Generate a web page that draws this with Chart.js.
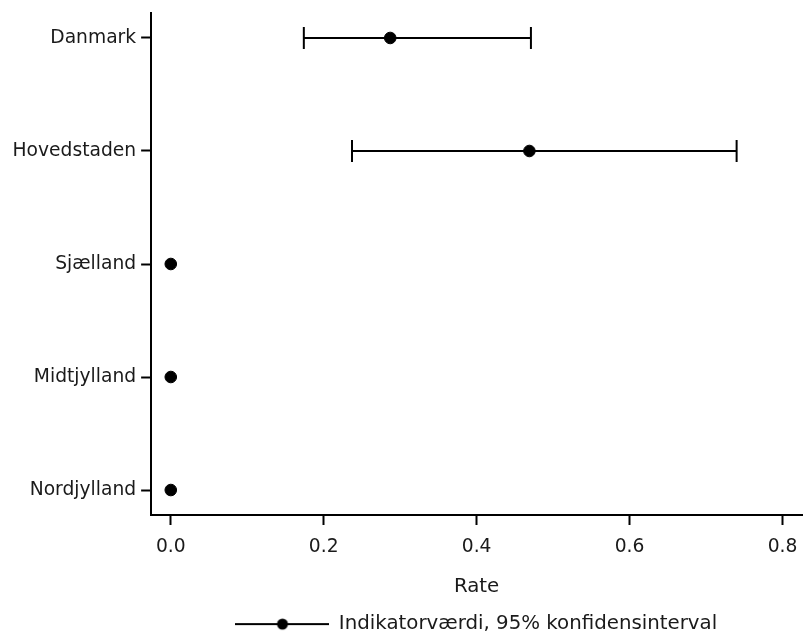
<!DOCTYPE html>
<html>
<head>
<meta charset="utf-8">
<script src="https://cdn.jsdelivr.net/npm/chart.js@4/dist/chart.umd.min.js"></script>
<style>
  body { margin: 0; background: #fff; }
  #wrap { width: 803px; height: 632px; }
</style>
</head>
<body>
<div id="wrap"><canvas id="rateChart" width="803" height="632"></canvas></div>
<script>
const regions = ["Danmark", "Hovedstaden", "Sjælland", "Midtjylland", "Nordjylland"];
const rates = [0.287, 0.469, 0, 0, 0];
const ciLower = [0.174, 0.237, null, null, null];
const ciUpper = [0.471, 0.740, null, null, null];
const rateTicks = [0.0, 0.2, 0.4, 0.6, 0.8];
const legendText = "Indikatorværdi, 95% konfidensinterval";

const ink = "#000";
const textColor = "#1a1a1a";
const font = { family: "'DejaVu Sans', sans-serif", size: 18.7 };
const legendFont = { family: "'DejaVu Sans', sans-serif", size: 19.8 };

// error bar segments, broken by an empty point between rows
const ciPoints = [];
regions.forEach((r, i) => {
    if (ciLower[i] === null) return;
    ciPoints.push({ x: ciLower[i], y: i }, { x: ciUpper[i], y: i }, { x: null, y: i });
});

// legend marker: line with a dot in the middle
const marker = document.createElement("canvas");
marker.width = 94;
marker.height = 14;
(() => {
    const c = marker.getContext("2d");
    c.strokeStyle = ink;
    c.lineWidth = 2;
    c.beginPath();
    c.moveTo(0, 7);
    c.lineTo(94, 7);
    c.stroke();
    c.fillStyle = ink;
    c.beginPath();
    c.arc(47, 7, 5.5, 0, Math.PI * 2);
    c.fill();
})();

// labels may hang past the plot edges, so drop the extra padding for them
const noEdgePadding = (s) => {
    s.paddingLeft = 0;
    s.paddingRight = 0;
    s.paddingTop = 0;
    s.paddingBottom = 0;
};

new Chart(document.getElementById("rateChart"), {
    type: "scatter",
    data: {
        datasets: [
            {
                type: "line",
                label: "ci",
                data: ciPoints,
                borderColor: ink,
                borderWidth: 2,
                spanGaps: false,
                pointStyle: "line",
                rotation: 90,
                pointRadius: 11,
                pointBorderWidth: 2,
                pointBorderColor: ink,
                pointHoverRadius: 11,
            },
            {
                label: legendText,
                data: rates.map((v, i) => ({ x: v, y: i })),
                backgroundColor: ink,
                borderColor: ink,
                pointRadius: 5.8,
                pointHoverRadius: 5.8,
            },
        ],
    },
    options: {
        responsive: false,
        animation: false,
        layout: { autoPadding: false, padding: { top: 13, right: 1, left: 7.5, bottom: -12 } },
        plugins: {
            tooltip: { enabled: false },
            legend: {
                position: "bottom",
                fullSize: false,
                labels: {
                    font: legendFont,
                    color: textColor,
                    usePointStyle: true,
                    pointStyleWidth: 93,
                    padding: 6,
                    generateLabels: () => [{
                        text: legendText,
                        pointStyle: marker,
                        fontColor: textColor,
                        lineWidth: 0,
                        hidden: false,
                        datasetIndex: 1,
                    }],
                },
            },
        },
        scales: {
            x: {
                type: "linear",
                min: -0.0257,
                max: 0.8255,
                afterBuildTicks: (s) => { s.ticks = rateTicks.map((v) => ({ value: v })); },
                afterFit: noEdgePadding,
                ticks: {
                    font: font,
                    color: textColor,
                    padding: 11,
                    maxRotation: 0,
                    callback: (v) => Number(v).toFixed(1),
                },
                grid: { drawOnChartArea: false, drawTicks: true, tickLength: 10, tickWidth: 2, color: ink },
                border: { display: true, color: ink, width: 2 },
                title: { display: true, text: "Rate", font: legendFont, color: textColor, padding: { top: 6, bottom: 9 } },
            },
            y: {
                type: "linear",
                reverse: true,
                min: -0.221,
                max: 4.221,
                afterBuildTicks: (s) => { s.ticks = regions.map((r, i) => ({ value: i })); },
                afterFit: noEdgePadding,
                ticks: {
                    font: font,
                    color: textColor,
                    padding: 5,
                    callback: (v) => regions[v] ?? "",
                },
                grid: { drawOnChartArea: false, drawTicks: true, tickLength: 10, tickWidth: 2, color: ink },
                border: { display: true, color: ink, width: 2 },
            },
        },
    },
});
</script>
</body>
</html>
